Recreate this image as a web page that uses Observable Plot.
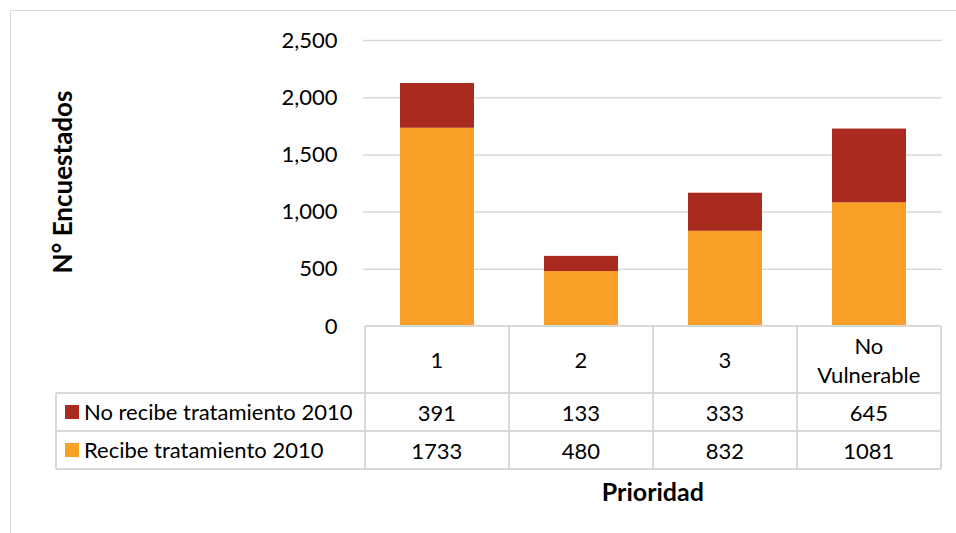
<!DOCTYPE html>
<html>
<head>
<meta charset="utf-8">
<script src="https://cdn.jsdelivr.net/npm/d3@7"></script>
<script src="https://cdn.jsdelivr.net/npm/@observablehq/plot@0.6"></script>
<style>
  html, body { margin: 0; padding: 0; background: #fff; }
  #wrap { position: relative; width: 956px; height: 533px; overflow: hidden; background: #fff; font-family: Lato, sans-serif; color: #000; }
  .abs { position: absolute; }
  .hl { position: absolute; height: 1.5px; background: #d9d9d9; }
  .vl { position: absolute; width: 1.5px; background: #d9d9d9; }
  .cell { position: absolute; display: flex; align-items: center; justify-content: center; text-align: center; font-size: 22px; line-height: 29px; }
</style>
</head>
<body>
<div id="wrap"></div>
<script>
// ---- data ----
const categories = ["1", "2", "3", "No Vulnerable"];
const seriesNames = ["No recibe tratamiento 2010", "Recibe tratamiento 2010"];
const seriesColors = ["#A92A1E", "#FBA026"];
const noRecibe = [391, 133, 333, 645];
const recibe = [1733, 480, 832, 1081];
const yTicks = [0, 500, 1000, 1500, 2000, 2500];
const yTitle = "N° Encuestados";
const xTitle = "Prioridad";

// long format table for stacking (bottom series first)
const rows = [];
categories.forEach((c, i) => {
  rows.push({cat: c, series: seriesNames[1], value: recibe[i]});
  rows.push({cat: c, series: seriesNames[0], value: noRecibe[i]});
});

const wrap = document.getElementById("wrap");

// outer chart border (top + left)
const border = document.createElement("div");
border.className = "abs";
Object.assign(border.style, {left: "10px", top: "9.5px", width: "1000px", height: "600px",
  borderLeft: "1.5px solid #d9d9d9", borderTop: "1.5px solid #d9d9d9"});
wrap.appendChild(border);

const fmt = d3.format(",");
const chart = Plot.plot({
  width: 956,
  height: 330,
  marginLeft: 363,
  marginRight: 14,
  marginTop: 40,
  marginBottom: 4,
  style: {fontFamily: "Lato, sans-serif", fontSize: "22px", color: "#000", background: "transparent", overflow: "visible"},
  x: {domain: categories, paddingInner: 0.488, paddingOuter: 0.244, axis: null},
  y: {domain: [0, 2500], axis: null},
  color: {domain: seriesNames, range: seriesColors},
  marks: [
    Plot.ruleY(yTicks.filter(d => d > 0), {stroke: "#d9d9d9", strokeWidth: 1.5}),
    Plot.axisY(yTicks, {tickSize: 0, tickPadding: 26, tickFormat: d => fmt(d), label: null, fontSize: 22}),
    Plot.barY(rows, {x: "cat", y: "value", fill: "series"})
  ]
});
chart.style.position = "absolute";
chart.style.left = "0px";
chart.style.top = "0px";
wrap.appendChild(chart);

// ---- data table under the chart, aligned to the x band scale ----
const xs = chart.scale("x");
const ys = chart.scale("y");
const step = xs.step;
const colLeft = c => xs.apply(c) - step * xs.paddingInner / 2;
const x0 = colLeft(categories[0]);
const x1 = colLeft(categories[categories.length - 1]) + step;
const tableTop = ys.apply(0);
const headerH = 67, rowH = 38;
const legendLeft = 56;
const r1 = tableTop + headerH, r2 = r1 + rowH, r3 = r2 + rowH;

function hline(x, y, w) {
  const d = document.createElement("div"); d.className = "hl";
  Object.assign(d.style, {left: x + "px", top: (y - 0.75) + "px", width: w + "px"});
  wrap.appendChild(d);
}
function vline(x, y, h) {
  const d = document.createElement("div"); d.className = "vl";
  Object.assign(d.style, {left: (x - 0.75) + "px", top: y + "px", height: h + "px"});
  wrap.appendChild(d);
}
function cell(x, y, w, h, html) {
  const d = document.createElement("div"); d.className = "cell";
  Object.assign(d.style, {left: x + "px", top: y + "px", width: w + "px", height: h + "px"});
  d.innerHTML = html;
  wrap.appendChild(d);
  return d;
}

hline(x0, tableTop, x1 - x0);
hline(legendLeft, r1, x1 - legendLeft);
hline(legendLeft, r2, x1 - legendLeft);
hline(legendLeft, r3, x1 - legendLeft);
vline(legendLeft, r1, r3 - r1);
categories.forEach(c => vline(colLeft(c), tableTop, r3 - tableTop));
vline(x1, tableTop, r3 - tableTop);

categories.forEach((c, i) => {
  const L = colLeft(c);
  cell(L, tableTop, step, headerH, c.split(" ").join("<br>"));
  cell(L, r1, step, rowH, String(noRecibe[i]));
  cell(L, r2, step, rowH, String(recibe[i]));
});

// legend entries in the first column
[[r1, 0], [r2, 1]].forEach(([top, k]) => {
  const sw = document.createElement("div"); sw.className = "abs";
  Object.assign(sw.style, {left: "65px", top: (top + rowH / 2 - 7) + "px", width: "14px", height: "14px", background: seriesColors[k]});
  wrap.appendChild(sw);
  const t = document.createElement("div"); t.className = "abs";
  Object.assign(t.style, {left: "84px", top: top + "px", height: rowH + "px", lineHeight: rowH + "px", fontSize: "22px", whiteSpace: "nowrap"});
  t.textContent = seriesNames[k];
  wrap.appendChild(t);
});

// axis titles
const xt = document.createElement("div"); xt.className = "abs";
Object.assign(xt.style, {left: x0 + "px", width: (x1 - x0) + "px", top: "476px", textAlign: "center", fontWeight: "bold", fontSize: "25px", lineHeight: "30px"});
xt.textContent = xTitle;
wrap.appendChild(xt);

const yt = document.createElement("div"); yt.className = "abs";
Object.assign(yt.style, {left: "62px", top: "182px", fontWeight: "bold", fontSize: "26px", lineHeight: "30px", whiteSpace: "nowrap", transform: "translate(-50%, -50%) rotate(-90deg)"});
yt.textContent = yTitle;
wrap.appendChild(yt);
</script>
</body>
</html>
